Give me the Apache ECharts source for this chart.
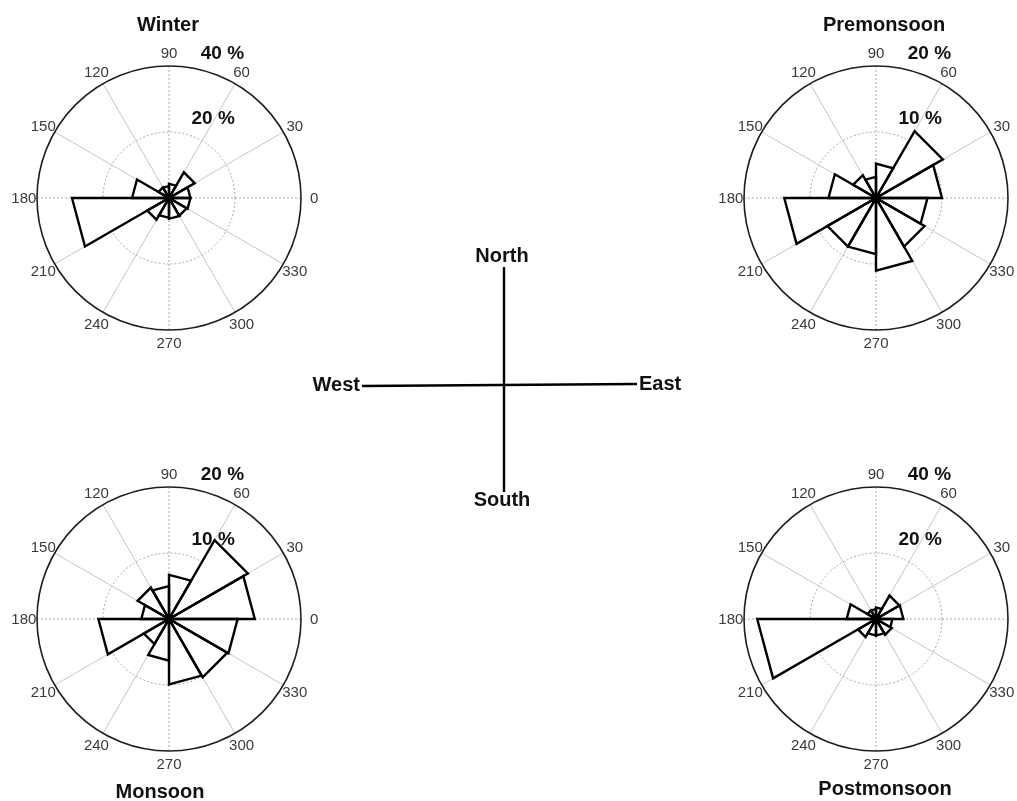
<!DOCTYPE html>
<html>
<head>
<meta charset="utf-8">
<title>Seasonal wind roses</title>
<script src="https://cdn.jsdelivr.net/npm/echarts@6/dist/echarts.min.js"></script>
<style>
  html, body { margin: 0; padding: 0; background: #ffffff; }
  #chart { width: 1017px; height: 801px; }
</style>
</head>
<body>
<div id="chart"></div>
<script>
// Direction bins (degrees, counter-clockwise from east) and their labels
const binStarts = [0, 30, 60, 90, 120, 150, 180, 210, 240, 270, 300, 330];
const angleTicks = [0, 30, 60, 90, 120, 150, 180, 210, 240, 270, 300, 330];
const binWidth = 30;

// Frequency (%) of wind in each direction bin, per season
const winter      = [6.5, 9.0, 4.3, 3.6, 3.7, 11.2, 29.4, 7.6, 6.0, 6.3, 6.2, 6.5];
const premonsoon  = [10.0, 11.7, 5.2, 3.2, 4.0, 7.2, 13.9, 8.5, 8.5, 11.0, 8.5, 7.8];
const monsoon     = [13.0, 13.8, 6.7, 5.0, 5.5, 4.2, 10.7, 4.4, 6.3, 9.9, 10.2, 10.4];
const postmonsoon = [8.3, 8.2, 3.5, 3.0, 3.0, 8.9, 36.0, 6.3, 5.0, 5.0, 5.5, 5.0];

// Radial ticks (%) for each rose
const winterTicks      = [20, 40];
const premonsoonTicks  = [10, 20];
const monsoonTicks     = [10, 20];
const postmonsoonTicks = [20, 40];

const FONT = '"Liberation Sans", Arial, Helvetica, sans-serif';
const R = 132;

const panels = [
  { title: 'Winter',      values: winter,      ticks: winterTicks,      center: [169, 198], titleAt: [168, 24] },
  { title: 'Premonsoon',  values: premonsoon,  ticks: premonsoonTicks,  center: [876, 198], titleAt: [884, 24] },
  { title: 'Monsoon',     values: monsoon,     ticks: monsoonTicks,     center: [169, 619], titleAt: [160, 791] },
  { title: 'Postmonsoon', values: postmonsoon, ticks: postmonsoonTicks, center: [876, 619], titleAt: [885, 788] }
];

const polar = [], angleAxis = [], radiusAxis = [], series = [], graphic = [];

// Triangle from the origin to both bin edges at the bin's frequency
function petal(api, style) {
  const v = api.value(0), a0 = api.value(1);
  const o = api.coord([0, 0]);
  const p1 = api.coord([v, a0]);
  const p2 = api.coord([v, a0 + binWidth]);
  return { type: 'polygon', shape: { points: [o, p1, p2] }, style: style };
}

panels.forEach((p, i) => {
  const main = 2 * i, cardinal = 2 * i + 1;
  const rMax = p.ticks[p.ticks.length - 1];
  const center = [p.center[0] + 'px', p.center[1] + 'px'];
  const petalData = p.values.map((v, k) => [v, binStarts[k]]);

  polar.push({ center: center, radius: R });
  polar.push({ center: center, radius: R });

  // spokes every 30 degrees (cardinal ones are drawn dotted by the second polar)
  angleAxis.push({
    polarIndex: main, type: 'value', min: 0, max: 360, interval: 30,
    startAngle: 0, clockwise: false,
    axisLine: { show: true, lineStyle: { color: '#1e1e1e', width: 1.6 } },
    axisTick: { show: false }, axisLabel: { show: false },
    splitLine: { show: true, lineStyle: { color: ['rgba(0,0,0,0)', '#c6c6c6', '#c6c6c6'], width: 1 } }
  });
  radiusAxis.push({
    polarIndex: main, type: 'value', min: 0, max: rMax, interval: p.ticks[0],
    axisLine: { show: false }, axisTick: { show: false }, axisLabel: { show: false },
    splitLine: { show: true, lineStyle: { color: ['rgba(0,0,0,0)', '#a8a8a8', 'rgba(0,0,0,0)'], type: [2, 2], width: 1 } }
  });

  angleAxis.push({
    polarIndex: cardinal, type: 'value', min: 0, max: 360, interval: 90,
    startAngle: 0, clockwise: false,
    axisLine: { show: false }, axisTick: { show: false }, axisLabel: { show: false },
    splitLine: { show: true, lineStyle: { color: '#a8a8a8', type: [2, 2], width: 1 } }
  });
  radiusAxis.push({
    polarIndex: cardinal, type: 'value', min: 0, max: rMax,
    axisLine: { show: false }, axisTick: { show: false }, axisLabel: { show: false },
    splitLine: { show: false }
  });

  // petals: white fill first, outlines on top so every edge stays visible
  series.push({
    type: 'custom', name: p.title, coordinateSystem: 'polar', polarIndex: main,
    silent: true, z: 4, data: petalData,
    renderItem: function (params, api) {
      return petal(api, { fill: '#ffffff', stroke: null });
    }
  });
  series.push({
    type: 'custom', name: p.title, coordinateSystem: 'polar', polarIndex: main,
    silent: true, z: 5, data: petalData,
    renderItem: function (params, api) {
      const outline = petal(api, { fill: null, stroke: '#000000', lineWidth: 2.4, lineJoin: 'miter', miterLimit: 10 });
      const o = api.coord([0, 0]);
      // the converging edges merge into a solid hub at the origin
      return {
        type: 'group',
        children: [
          outline,
          { type: 'circle', shape: { cx: o[0], cy: o[1], r: 4.5 }, style: { fill: '#000000' } }
        ]
      };
    }
  });

  // angle tick labels just outside the rim
  series.push({
    type: 'custom', coordinateSystem: 'polar', polarIndex: main, silent: true, z: 6,
    data: angleTicks.map(a => [rMax, a]),
    renderItem: function (params, api) {
      const pt = api.coord([api.value(0) * 1.1, api.value(1)]);
      return {
        type: 'text', x: pt[0], y: pt[1] + 1,
        style: { text: String(api.value(1)), fill: '#3a3a3a', fontSize: 15, fontFamily: FONT, align: 'center', verticalAlign: 'middle' }
      };
    }
  });

  // radial tick labels beside the circles
  series.push({
    type: 'custom', coordinateSystem: 'polar', polarIndex: main, silent: true, z: 6,
    data: p.ticks.map(t => [t, 82]),
    renderItem: function (params, api) {
      const pt = api.coord([api.value(0), api.value(1)]);
      return {
        type: 'text', x: pt[0] + 35, y: pt[1] - 14,
        style: { text: api.value(0) + ' %', fill: '#111111', fontSize: 19, fontWeight: 'bold', fontFamily: FONT, align: 'center', verticalAlign: 'middle' }
      };
    }
  });

  graphic.push({
    type: 'text', x: p.titleAt[0], y: p.titleAt[1] + 1, silent: true,
    style: { text: p.title, fill: '#111111', fontSize: 20, fontWeight: 'bold', fontFamily: FONT, align: 'center', verticalAlign: 'middle' }
  });
});

// compass cross in the middle
const compassStyle = { stroke: '#000000', lineWidth: 2.4 };
graphic.push({ type: 'line', silent: true, shape: { x1: 504, y1: 267, x2: 504, y2: 492 }, style: compassStyle });
graphic.push({ type: 'line', silent: true, shape: { x1: 362, y1: 386, x2: 637, y2: 384 }, style: compassStyle });
const compassLabels = [
  { text: 'North', x: 502, y: 256, align: 'center' },
  { text: 'South', x: 502, y: 500, align: 'center' },
  { text: 'West',  x: 360, y: 385, align: 'right' },
  { text: 'East',  x: 639, y: 384, align: 'left' }
];
compassLabels.forEach(c => graphic.push({
  type: 'text', x: c.x, y: c.y, silent: true,
  style: { text: c.text, fill: '#111111', fontSize: 20, fontWeight: 'bold', fontFamily: FONT, align: c.align, verticalAlign: 'middle' }
}));

const chart = echarts.init(document.getElementById('chart'), null, { renderer: 'canvas' });
chart.setOption({
  backgroundColor: '#ffffff',
  animation: false,
  polar: polar,
  angleAxis: angleAxis,
  radiusAxis: radiusAxis,
  series: series,
  graphic: graphic
});
</script>
</body>
</html>
